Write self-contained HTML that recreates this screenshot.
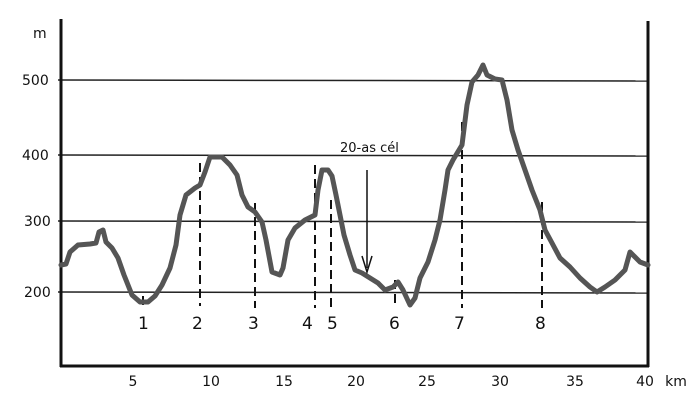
<!DOCTYPE html>
<html><head><style>
body{margin:0;background:#fff;}
svg{display:block;font-family:"DejaVu Sans","Liberation Sans",sans-serif;}
</style></head><body>
<svg width="700" height="411" viewBox="0 0 700 411">
<g stroke="#222" stroke-width="1.5">
<line x1="58" y1="80" x2="648" y2="81"/>
<line x1="58" y1="155" x2="648" y2="156"/>
<line x1="58" y1="221" x2="648" y2="222"/>
<line x1="58" y1="292" x2="648" y2="293"/>
</g>
<g stroke="#111" stroke-width="3" fill="none">
<line x1="61" y1="19" x2="61" y2="367"/>
<line x1="648" y1="21" x2="648" y2="367"/>
<line x1="60" y1="366" x2="649" y2="366"/>
</g>
<g stroke="#111" stroke-width="2" stroke-dasharray="9,5">
<line x1="143" y1="296" x2="143" y2="308"/>
<line x1="200" y1="163" x2="200" y2="306"/>
<line x1="255" y1="203" x2="255" y2="308"/>
<line x1="315" y1="165" x2="315" y2="308"/>
<line x1="331" y1="200" x2="331" y2="308"/>
<line x1="395" y1="280" x2="395" y2="308"/>
<line x1="462" y1="122" x2="462" y2="308"/>
<line x1="542" y1="202" x2="542" y2="308"/>
</g>
<path d="M61,265 L66,264 L70,252 L78,245 L90,244 L96,243 L99,232 L103,230 L106,242 L112,248 L118,258 L124,275 L132,295 L140,302 L148,302 L155,296 L162,285 L170,268 L176,245 L180,215 L186,195 L195,188 L200,185 L205,172 L210,157 L222,157 L230,165 L237,175 L242,195 L248,207 L255,212 L262,222 L266,240 L272,272 L280,275 L283,268 L288,240 L295,228 L305,220 L315,215 L318,190 L322,170 L328,170 L332,176 L336,195 L340,215 L344,235 L350,255 L355,270 L362,273 L370,278 L378,283 L385,290 L393,287 L398,282 L403,290 L410,305 L415,298 L420,278 L428,262 L435,240 L440,220 L445,190 L448,170 L453,160 L462,145 L467,105 L472,82 L478,75 L483,65 L487,75 L495,79 L502,80 L507,100 L512,130 L518,150 L525,170 L532,190 L540,210 L545,230 L552,243 L560,258 L570,267 L580,278 L590,287 L597,292 L605,287 L615,280 L625,270 L630,252 L640,262 L648,265" fill="none" stroke="#555" stroke-width="5" stroke-linejoin="round" stroke-linecap="round"/>
<line x1="367" y1="170" x2="367" y2="268" stroke="#111" stroke-width="1.5"/>
<path d="M362,256 L367,272 L372,256" fill="none" stroke="#111" stroke-width="1.5"/>
<g fill="#111" font-size="14">
<text x="33" y="38">m</text>
<text x="22" y="85">500</text>
<text x="22" y="160">400</text>
<text x="24" y="226">300</text>
<text x="24" y="297">200</text>
<text x="340" y="152" font-size="13">20-as cél</text>
<g font-size="17">
<text x="138" y="329">1</text><text x="192" y="329">2</text><text x="248" y="329">3</text>
<text x="302" y="329">4</text><text x="327" y="329">5</text><text x="389" y="329">6</text>
<text x="454" y="329">7</text><text x="535" y="329">8</text>
</g>
<g text-anchor="middle">
<text x="133" y="386">5</text><text x="211" y="386">10</text><text x="284" y="386">15</text>
<text x="356" y="386">20</text><text x="427" y="386">25</text><text x="500" y="386">30</text>
<text x="575" y="386">35</text><text x="645" y="386">40</text><text x="676" y="386">km</text>
</g>
</g>
</svg>
</body></html>
